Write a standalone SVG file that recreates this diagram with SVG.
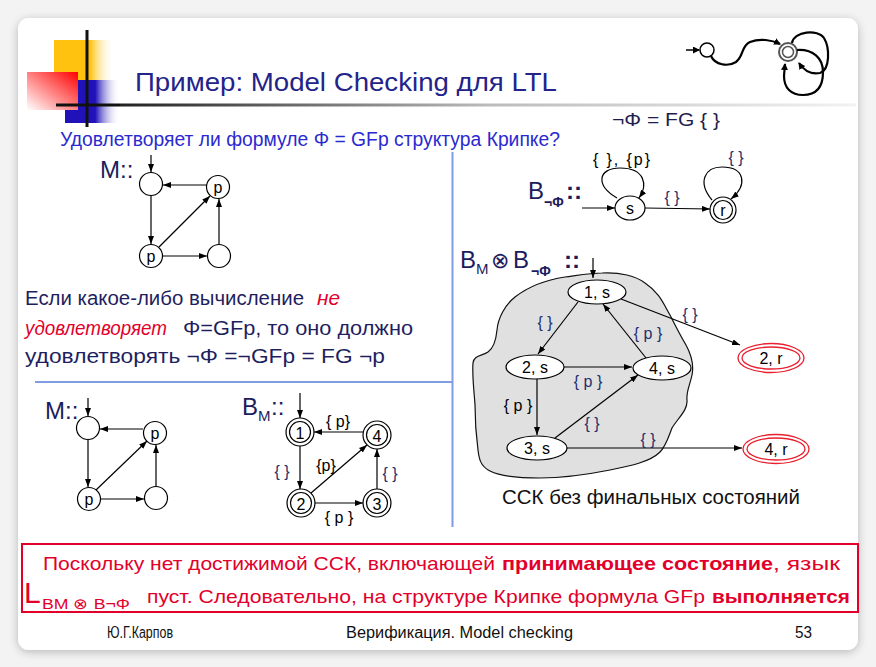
<svg xmlns="http://www.w3.org/2000/svg" width="876" height="667" viewBox="0 0 876 667">
<defs>
<style>
.t{font-family:"Liberation Sans",Arial,sans-serif}
.n{fill:#fff;stroke:#000;stroke-width:1.2}
.e{stroke:#000;stroke-width:1.2;fill:none;marker-end:url(#ah)}
.lb{font-family:"Liberation Sans",Arial,sans-serif;font-size:16px;text-anchor:middle;fill:#000}
.nv{fill:#24306e}
.sep{stroke:#7f9de3;stroke-width:2}
.rd{fill:#e2002a}
.ri{fill:#e2002a;font-style:italic}
.rn{fill:#fff;stroke:#e8202f;stroke-width:1.3}
</style>
<marker id="ah" markerWidth="8" markerHeight="6" refX="8" refY="3" orient="auto" markerUnits="userSpaceOnUse"><path d="M0,0 L8,3 L0,6 z" fill="#000"/></marker>
<marker id="ah2" markerWidth="7" markerHeight="7" refX="6" refY="3.5" orient="auto" markerUnits="userSpaceOnUse"><path d="M0,0 L7,3.5 L0,7 z" fill="#000"/></marker>
<linearGradient id="gy" x1="0" y1="0" x2="1" y2="0"><stop offset="0" stop-color="#ffc20e"/><stop offset="0.6" stop-color="#ffc20e"/><stop offset="1" stop-color="#fff" stop-opacity="0"/></linearGradient>
<linearGradient id="gb" x1="0" y1="0" x2="1" y2="0"><stop offset="0" stop-color="#2012b8"/><stop offset="0.55" stop-color="#2012b8"/><stop offset="1" stop-color="#fff" stop-opacity="0"/></linearGradient>
<linearGradient id="gr" x1="1" y1="0" x2="0" y2="1"><stop offset="0" stop-color="#ff0000"/><stop offset="1" stop-color="#fff"/></linearGradient>
<linearGradient id="gl" x1="0" y1="0" x2="1" y2="0"><stop offset="0" stop-color="#222"/><stop offset="0.5" stop-color="#bbb"/><stop offset="1" stop-color="#f2f2f2"/></linearGradient>
<filter id="sh" x="-5%" y="-5%" width="110%" height="110%"><feGaussianBlur in="SourceAlpha" stdDeviation="5"/><feOffset dy="2"/><feComponentTransfer><feFuncA type="linear" slope="0.25"/></feComponentTransfer><feMerge><feMergeNode/><feMergeNode in="SourceGraphic"/></feMerge></filter>
</defs>
<rect x="0" y="0" width="876" height="667" fill="#f3f3f3"/>
<rect x="18" y="18" width="840" height="632" rx="11" fill="#fff" filter="url(#sh)"/>

<g id="logo">
<rect x="54" y="40" width="60" height="40" fill="url(#gy)"/>
<rect x="65" y="80" width="55" height="43" fill="url(#gb)"/>
<rect x="27" y="72" width="51" height="38" fill="url(#gr)"/>
<line x1="87" y1="30" x2="87" y2="127" stroke="#111" stroke-width="3"/>
<line x1="56" y1="105" x2="120" y2="105" stroke="#111" stroke-width="3"/>
<rect x="120" y="103.5" width="736" height="3" fill="url(#gl)"/>
</g>

<g id="icon" fill="none" stroke="#000" stroke-width="2.2">
<line x1="686" y1="50" x2="699" y2="50" stroke-width="1.5" marker-end="url(#ah2)"/>
<circle cx="707" cy="50" r="7" stroke-width="1.5"/>
<path d="M711,56 C715,65 728,67 736,62 C744,56 741,46 750,42 C760,38 772,40 780,44" marker-end="url(#ah2)"/>
<circle cx="788" cy="52" r="9" stroke="#555" stroke-width="2"/>
<circle cx="788" cy="52" r="5.5" stroke="#555" stroke-width="1.5"/>
<path d="M792,43 C794,31 818,29 824,38 C830,48 830,70 820,73 C810,75 803,69 799,63" marker-end="url(#ah2)"/>
<path d="M797,50 C813,49 823,58 823,72 C823,89 815,95 803,95 C791,95 784,88 784,76 L785,64" marker-end="url(#ah2)"/>
</g>

<g id="title">
<text class="t" x="135" y="91" font-size="26" fill="#23238a" textLength="422" lengthAdjust="spacingAndGlyphs">Пример: Model Checking для LTL</text>
<text class="t" x="60" y="146" font-size="20" fill="#2a2ad0" textLength="500" lengthAdjust="spacingAndGlyphs">Удовлетворяет ли формуле Φ = GFp структура Крипке?</text>
</g>

<g id="separators">
<line class="sep" x1="452.5" y1="152" x2="452.5" y2="527"/>
<line class="sep" x1="35" y1="382" x2="452.5" y2="382"/>
</g>

<g id="M1">
<text class="t" x="100" y="178" font-size="24" fill="#1c1c5c">M::</text>
<g id="M1-a"><circle class="n" cx="151" cy="184" r="11.5"/></g>
<g id="M1-b"><circle class="n" cx="218" cy="187" r="11.5"/><text class="lb" x="218" y="193">p</text></g>
<g id="M1-c"><circle class="n" cx="151" cy="256" r="11.5"/><text class="lb" x="151" y="262">p</text></g>
<g id="M1-d"><circle class="n" cx="219" cy="256" r="11.5"/></g>
</g>

<g id="text-block" font-size="20" fill="#1f1f5f">
<text class="t" x="25" y="305" textLength="279" lengthAdjust="spacingAndGlyphs">Если какое-либо вычисление</text>
<text class="t ri" x="317" y="305" textLength="23" lengthAdjust="spacingAndGlyphs">не</text>
<text class="t ri" x="25" y="335" textLength="142" lengthAdjust="spacingAndGlyphs">удовлетворяет</text>
<text class="t" x="183" y="335" textLength="230" lengthAdjust="spacingAndGlyphs">Φ=GFp, то оно должно</text>
<text class="t" x="25" y="363" textLength="360" lengthAdjust="spacingAndGlyphs">удовлетворять ¬Φ =¬GFp = FG ¬p</text>
</g>

<g id="M2">
<text class="t" x="45" y="419" font-size="24" fill="#1c1c5c">M::</text>
<g id="M2-a"><circle class="n" cx="88" cy="428" r="11.5"/></g>
<g id="M2-b"><circle class="n" cx="155" cy="433" r="11.5"/><text class="lb" x="155" y="439">p</text></g>
<g id="M2-c"><circle class="n" cx="89" cy="499" r="11.5"/><text class="lb" x="89" y="505">p</text></g>
<g id="M2-d"><circle class="n" cx="156" cy="498" r="11.5"/></g>
</g>

<g id="BM">
<text class="t" x="242" y="415" font-size="24" fill="#1c1c5c">B</text>
<text class="t" x="258" y="421" font-size="15" fill="#1c1c5c">M</text>
<text class="t" x="271" y="415" font-size="24" fill="#1c1c5c">::</text>
<g id="BM-1"><circle class="n" cx="300" cy="432" r="14"/><circle class="n" cx="300" cy="432" r="10.5"/><text class="lb" x="300" y="438.5" font-size="18">1</text></g>
<g id="BM-4"><circle class="n" cx="377" cy="435" r="14"/><circle class="n" cx="377" cy="435" r="10.5"/><text class="lb" x="377" y="441.5" font-size="18">4</text></g>
<g id="BM-2"><circle class="n" cx="301" cy="503" r="14"/><circle class="n" cx="301" cy="503" r="10.5"/><text class="lb" x="301" y="509.5" font-size="18">2</text></g>
<g id="BM-3"><circle class="n" cx="377" cy="503" r="14"/><circle class="n" cx="377" cy="503" r="10.5"/><text class="lb" x="377" y="509.5" font-size="18">3</text></g>
</g>

<g id="Bnphi">
<text class="t" x="612" y="126" font-size="19" fill="#1e1e4e" textLength="108" lengthAdjust="spacingAndGlyphs">¬Φ = FG { }</text>
<text class="t" x="528" y="199" font-size="24" fill="#1c1c5c">B</text>
<text class="t" x="544" y="207" font-size="14" font-weight="bold" fill="#1c1c5c">¬Φ</text>
<text class="t" x="566" y="199" font-size="24" font-weight="bold" fill="#1c1c5c">::</text>
<g id="Bn-s"><ellipse class="n" cx="630" cy="208" rx="15" ry="12"/><text class="lb" x="630" y="214">s</text></g>
<g id="Bn-r"><circle class="n" cx="723" cy="210" r="13"/><circle class="n" cx="723" cy="210" r="9.5"/><text class="lb" x="723" y="216">r</text></g>
</g>

<g id="product">
<path d="M602,273 C620,272 636,276 645,283 C660,293 664,305 670,315 C676,327 680,335 686,345 C692,356 694,365 692,375 C690,385 686,392 687,400 C688,410 678,418 672,428 C668,438 666,446 660,452 C650,462 630,466 610,470 C590,474 565,478 540,478 C515,478 500,476 490,471 C480,466 479,458 478,450 C476,435 475,420 475,405 C474,390 472,375 473,363 C474,355 482,356 488,352 C494,348 496,340 497,330 C498,318 505,305 515,297 C528,287 545,280 565,277 C580,275 592,273 602,273 Z" fill="#e0e0e0" stroke="#111" stroke-width="1.2"/>
<text class="t" x="460" y="268" font-size="24" fill="#1c1c5c">B</text>
<text class="t" x="476" y="274" font-size="15" fill="#1c1c5c">M</text>
<text class="t" x="491" y="268" font-size="22" fill="#1c1c5c">⊗</text>
<text class="t" x="513" y="268" font-size="24" fill="#1c1c5c">B</text>
<text class="t" x="531" y="276" font-size="14" font-weight="bold" fill="#1c1c5c">¬Φ</text>
<text class="t" x="564" y="268" font-size="24" font-weight="bold" fill="#1c1c5c">::</text>
<g id="P-1s"><ellipse class="n" cx="597" cy="292" rx="29" ry="12"/><text class="lb" x="597" y="298">1, s</text></g>
<g id="P-2s"><ellipse class="n" cx="535" cy="367" rx="29" ry="12"/><text class="lb" x="535" y="373">2, s</text></g>
<g id="P-4s"><ellipse class="n" cx="662" cy="368" rx="29" ry="12"/><text class="lb" x="662" y="374">4, s</text></g>
<g id="P-3s"><ellipse class="n" cx="537" cy="448" rx="30" ry="12"/><text class="lb" x="537" y="454">3, s</text></g>
<g id="P-2r"><ellipse class="rn" cx="771" cy="358" rx="33" ry="14.5"/><ellipse class="rn" cx="771" cy="358" rx="29" ry="11"/><text class="lb" x="771" y="364">2, r</text></g>
<g id="P-4r"><ellipse class="rn" cx="776" cy="449" rx="33" ry="14.5"/><ellipse class="rn" cx="776" cy="449" rx="29" ry="11"/><text class="lb" x="776" y="455">4, r</text></g>
<text class="t" x="502" y="504" font-size="20" fill="#111" textLength="298" lengthAdjust="spacingAndGlyphs">ССК без финальных состояний</text>
</g>

<g id="connectors">
<line class="e" x1="151" y1="155" x2="151" y2="172"/>
<line class="e" x1="206" y1="185" x2="163" y2="185"/>
<line class="e" x1="151" y1="196" x2="151" y2="244"/>
<line class="e" x1="159" y1="247" x2="210" y2="196"/>
<line class="e" x1="163" y1="256" x2="207" y2="256"/>
<line class="e" x1="219" y1="244" x2="219" y2="199"/>
<line class="e" x1="88" y1="398" x2="88" y2="416"/>
<line class="e" x1="143" y1="429" x2="100" y2="429"/>
<line class="e" x1="88" y1="440" x2="88" y2="487"/>
<line class="e" x1="96" y1="490" x2="147" y2="441"/>
<line class="e" x1="101" y1="499" x2="144" y2="499"/>
<line class="e" x1="156" y1="486" x2="156" y2="445"/>
<line class="e" x1="300" y1="393" x2="300" y2="418"/>
<line class="e" x1="363" y1="432" x2="314" y2="432"/>
<line class="e" x1="300" y1="446" x2="300" y2="489"/>
<line class="e" x1="311" y1="493" x2="367" y2="445"/>
<line class="e" x1="315" y1="503" x2="363" y2="503"/>
<line class="e" x1="377" y1="489" x2="377" y2="449"/>
<text class="lb" x="338" y="427">{ p}</text>
<text class="lb nv" x="282" y="477" font-size="18">{ }</text>
<text class="lb" x="326" y="471">{p}</text>
<text class="lb nv" x="390" y="479" font-size="18">{ }</text>
<text class="lb" x="339" y="523">{ p }</text>
<line class="e" x1="582" y1="208" x2="615" y2="208"/>
<line class="e" x1="645" y1="208" x2="710" y2="209"/>
<path class="e" d="M617,198 C595,185 598,168 620,168 C645,168 648,185 639,198"/>
<path class="e" d="M712,200 C697,182 705,167 722,167 C745,167 748,185 731,199"/>
<text class="t" x="593" y="165" font-size="16" fill="#000" textLength="57" lengthAdjust="spacing">{ },  {p}</text>
<text class="lb nv" x="736" y="163" font-size="18">{ }</text>
<text class="lb nv" x="672" y="203" font-size="18">{ }</text>
<line class="e" x1="593" y1="258" x2="593" y2="278"/>
<line class="e" x1="578" y1="302" x2="538" y2="354"/>
<line class="e" x1="621" y1="299" x2="740" y2="345"/>
<line class="e" x1="646" y1="358" x2="603" y2="304"/>
<line class="e" x1="564" y1="367" x2="632" y2="367"/>
<line class="e" x1="537" y1="379" x2="537" y2="435"/>
<line class="e" x1="555" y1="438" x2="638" y2="375"/>
<line class="e" x1="567" y1="448" x2="742" y2="448"/>
<text class="lb nv" x="545" y="328" font-size="17">{ }</text>
<text class="lb nv" x="690" y="320" font-size="17">{ }</text>
<text class="lb nv" x="648" y="339" font-size="17">{ p }</text>
<text class="lb nv" x="588" y="387" font-size="17">{ p }</text>
<text class="lb" x="518" y="411" font-size="17">{ p }</text>
<text class="lb nv" x="592" y="429" font-size="17">{ }</text>
<text class="lb nv" x="648" y="445" font-size="17">{ }</text>
</g>

<g id="conclusion">
<rect x="22" y="544" width="836" height="68" fill="#fff" stroke="#e2002a" stroke-width="2"/>
<text class="t rd" x="43" y="570" font-size="19" textLength="452" lengthAdjust="spacingAndGlyphs">Поскольку нет достижимой ССК, включающей</text>
<text class="t rd" x="502" y="570" font-size="19" font-weight="bold" textLength="271" lengthAdjust="spacingAndGlyphs">принимающее состояние</text>
<text class="t rd" x="773" y="570" font-size="19" textLength="67" lengthAdjust="spacingAndGlyphs">, язык</text>
<text class="t rd" x="24" y="603" font-size="30">L</text>
<text class="t rd" x="42" y="609" font-size="15" textLength="88" lengthAdjust="spacingAndGlyphs">BM ⊗ B¬Φ</text>
<text class="t rd" x="147" y="603" font-size="19" textLength="558" lengthAdjust="spacingAndGlyphs">пуст. Следовательно, на структуре Крипке формула GFp</text>
<text class="t rd" x="712" y="603" font-size="19" font-weight="bold" textLength="138" lengthAdjust="spacingAndGlyphs">выполняется</text>
</g>

<g id="footer" font-size="16" fill="#111">
<text class="t" x="107" y="638" textLength="66" lengthAdjust="spacingAndGlyphs">Ю.Г.Карпов</text>
<text class="t" x="346" y="638" textLength="227" lengthAdjust="spacingAndGlyphs">Верификация. Model checking</text>
<text class="t" x="795" y="638" textLength="17" lengthAdjust="spacingAndGlyphs">53</text>
</g>
</svg>
